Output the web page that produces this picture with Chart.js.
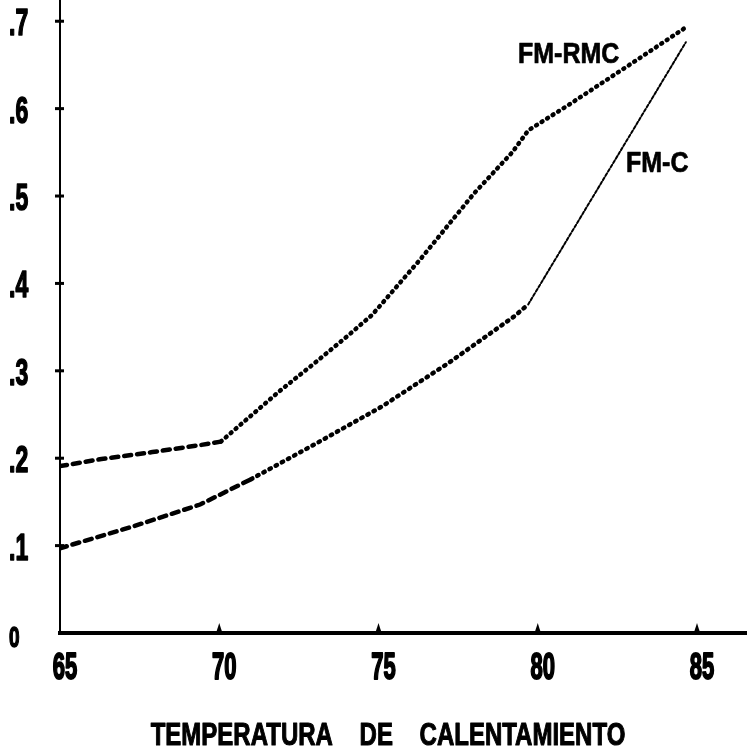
<!DOCTYPE html>
<html>
<head>
<meta charset="utf-8">
<script src="https://cdn.jsdelivr.net/npm/chart.js@4"></script>
<style>
  html, body { margin: 0; padding: 0; background: #fff; }
  #wrap { width: 747px; height: 752px; position: relative; }
</style>
</head>
<body>
<div id="wrap"><canvas id="grafica"></canvas></div>
<script>
// datos
const rmcTemp = [65, 66.3, 67.9, 69.4, 70.05, 71.9, 73.0, 74.0, 74.8, 76.3, 78.0, 79.2, 79.7, 81.0, 83.0, 84.65];
const rmcValor = [0.191, 0.199, 0.207, 0.215, 0.219, 0.277, 0.309, 0.339, 0.364, 0.427, 0.503, 0.550, 0.575, 0.605, 0.653, 0.693];
const cTemp = [65, 67.3, 69.4, 71.0, 73.0, 75.1, 77.2, 79.25, 79.7, 84.65];
const cValor = [0.097, 0.122, 0.147, 0.176, 0.216, 0.259, 0.309, 0.362, 0.376, 0.676];

const xTicks = [65, 70, 75, 80, 85];
const yTicks = [0, 0.1, 0.2, 0.3, 0.4, 0.5, 0.6, 0.7];
const yTickLabels = ["0", ".1", ".2", ".3", ".4", ".5", ".6", ".7"];
const tituloX = "TEMPERATURA    DE    CALENTAMIENTO";

// etiquetas de las curvas (posicion en unidades de datos)
const etiquetas = [
  { texto: "FM-RMC", x: 79.38, y: 0.652 },
  { texto: "FM-C", x: 82.77, y: 0.527 },
];

function puntos(xs, ys) {
  return xs.map((x, i) => ({ x: x, y: ys[i] }));
}

// dibuja texto estirado en vertical, como el plotter original
function textoEstirado(ctx, texto, x, y, size, sy, align, grosor) {
  ctx.save();
  ctx.font = "bold " + size + "px 'Liberation Sans', Arial, sans-serif";
  ctx.textAlign = align;
  ctx.textBaseline = "alphabetic";
  ctx.translate(x, y);
  ctx.scale(1, sy);
  ctx.fillStyle = "#000";
  ctx.fillText(texto, 0, 0);
  if (grosor) {
    ctx.strokeStyle = "#000";
    ctx.lineWidth = grosor;
    ctx.lineJoin = "round";
    ctx.strokeText(texto, 0, 0);
  }
  ctx.restore();
}

const plotter = {
  id: "plotter",
  beforeDraw(chart) {
    const c = chart.ctx;
    c.save();
    c.fillStyle = "#fff";
    c.fillRect(0, 0, chart.width, chart.height);
    c.restore();
  },
  afterDraw(chart) {
    const c = chart.ctx;
    const xs = chart.scales.x;
    const ys = chart.scales.y;
    const x0 = xs.getPixelForValue(65);
    const y0 = ys.getPixelForValue(0);

    // marcas del eje y
    c.save();
    c.fillStyle = "#000";
    yTicks.forEach((v) => {
      if (v === 0) return;
      const py = ys.getPixelForValue(v);
      c.fillRect(x0 - 5, py - 1.5, 9, 3);
    });
    // triangulos del eje x
    xTicks.forEach((v) => {
      if (v === 65) return;
      const px = xs.getPixelForValue(v);
      c.beginPath();
      c.moveTo(px - 3.5, y0 + 1);
      c.lineTo(px, y0 - 10);
      c.lineTo(px + 3.5, y0 + 1);
      c.closePath();
      c.fill();
    });
    c.restore();

    // etiquetas de los ejes
    yTicks.forEach((v, i) => {
      const py = ys.getPixelForValue(v);
      const size = v === 0 ? 19 : 23;
      textoEstirado(c, yTickLabels[i], 9, py + 14, size, 1.6, "left", 1);
    });
    xTicks.forEach((v) => {
      const px = xs.getPixelForValue(v);
      textoEstirado(c, String(v), px + 5, 679, 22, 1.68, "center", 1.2);
    });
    textoEstirado(c, tituloX, 388, 745, 24, 1.34, "center", 0.8);

    etiquetas.forEach((e) => {
      textoEstirado(c, e.texto, xs.getPixelForValue(e.x), ys.getPixelForValue(e.y), 25, 1.17, "left", 0.6);
    });
  },
};

const ctx = document.getElementById("grafica").getContext("2d");
const grafica = new Chart(ctx, {
  type: "line",
  data: {
    datasets: [
      {
        label: "FM-RMC",
        data: puntos(rmcTemp, rmcValor),
        borderColor: "#000",
        borderWidth: 4.5,
        borderCapStyle: "round",
        pointRadius: 0,
        tension: 0,
        segment: {
          borderDash: (s) => (s.p0.parsed.x < 70 ? [7, 6] : [1, 5.5]),
        },
      },
      {
        label: "FM-C",
        data: puntos(cTemp, cValor),
        borderColor: "#000",
        borderWidth: 4.5,
        borderCapStyle: "round",
        pointRadius: 0,
        tension: 0,
        segment: {
          borderDash: (s) => {
            if (s.p0.parsed.x < 70) return [7, 6];
            if (s.p0.parsed.x >= 79.7) return [3, 2];
            return [1.5, 5.5];
          },
          borderWidth: (s) => (s.p0.parsed.x >= 79.7 ? 2 : 4.5),
        },
      },
    ],
  },
  options: {
    responsive: true,
    maintainAspectRatio: false,
    animation: false,
    layout: { padding: 0 },
    plugins: {
      legend: { display: false },
      tooltip: { enabled: false },
      title: { display: false },
    },
    scales: {
      x: {
        type: "linear",
        min: 65,
        max: 86.57,
        ticks: { display: false },
        grid: { display: true, drawOnChartArea: false, drawTicks: false },
        border: { display: true, color: "#000", width: 4 },
        afterFit: (s) => { s.height = 119; },
      },
      y: {
        min: 0,
        max: 0.7243,
        ticks: { display: false },
        grid: { display: true, drawOnChartArea: false, drawTicks: false },
        border: { display: true, color: "#000", width: 2 },
        afterFit: (s) => { s.width = 60; },
      },
    },
  },
  plugins: [plotter],
});
</script>
</body>
</html>
